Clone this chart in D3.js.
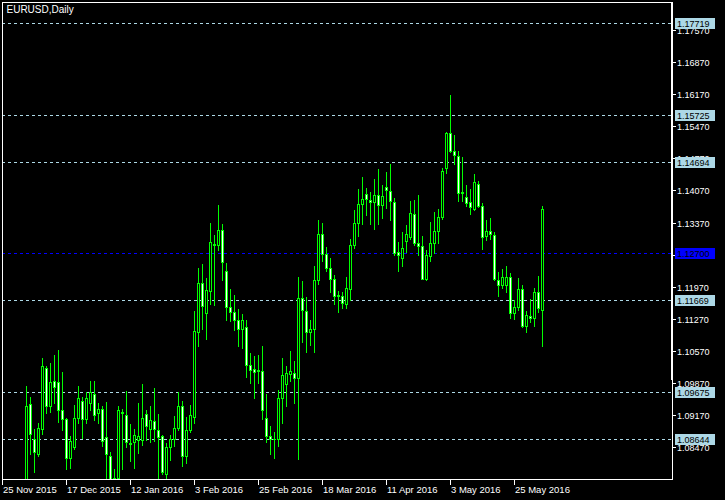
<!DOCTYPE html>
<html><head><meta charset="utf-8">
<script src="https://cdn.jsdelivr.net/npm/d3@7"></script>
<style>
html,body{margin:0;padding:0;background:#000;}
svg{display:block;}
text{font-family:"Liberation Sans",Arial,sans-serif;}
</style></head>
<body>
<svg id="chart" width="725" height="500"></svg>
<script>
const title = "EURUSD,Daily";
const opens = [1.0645,1.0625,1.0610,1.0590,1.0565,1.0630,1.0612,1.0940,1.0865,1.0831,
1.0887,1.1020,1.0937,1.0991,1.0988,1.0927,1.0907,1.0822,1.0847,1.0911,
1.0948,1.0907,1.0942,1.0962,1.0921,1.0929,1.0868,1.0827,1.0748,1.0780,
1.0922,1.0916,1.0854,1.0857,1.0862,1.0863,1.0918,1.0887,1.0903,1.0885,
1.0870,1.0787,1.0846,1.0865,1.0889,1.0937,1.0828,1.0884,1.0913,1.1099,
1.1204,1.1140,1.1188,1.1287,1.1289,1.1320,1.1232,1.1152,1.1141,1.1125,
1.1104,1.1110,1.1025,1.1017,1.1015,1.1013,1.0911,1.0871,1.0864,1.0865,
1.0953,1.0985,1.1007,1.1008,1.0997,1.1173,1.1144,1.1099,1.1104,1.1211,
1.1313,1.1268,1.1237,1.1213,1.1178,1.1177,1.1159,1.1191,1.1288,1.1335,
1.1377,1.1399,1.1386,1.1381,1.1396,1.1375,1.1414,1.1405,1.1381,1.1272,
1.1260,1.1297,1.1306,1.1355,1.1293,1.1285,1.1214,1.1265,1.1293,1.1318,
1.1350,1.1457,1.1532,1.1494,1.1482,1.1401,1.1392,1.1381,1.1367,1.1422,
1.1372,1.1308,1.1318,1.1310,1.1212,1.1200,1.1201,1.1217,1.1139,1.1152,
1.1191,1.1112,1.1134,1.1128,1.1185,1.1147];
const highs = [1.0670,1.0635,1.0620,1.0600,1.0640,1.0640,1.0980,1.0956,1.0886,1.0900,
1.1041,1.1023,1.1030,1.1047,1.1058,1.1010,1.0911,1.0872,1.0938,1.0981,
1.0956,1.0967,1.0991,1.0991,1.0942,1.0936,1.0945,1.0835,1.0798,1.0937,
1.0931,1.0969,1.0898,1.0886,1.0942,1.0984,1.0927,1.0937,1.0975,1.0919,
1.0874,1.0856,1.0874,1.0914,1.0966,1.0947,1.0912,1.0938,1.1144,1.1237,
1.1246,1.1215,1.1337,1.1309,1.1375,1.1334,1.1248,1.1192,1.1179,1.1148,
1.1137,1.1124,1.1052,1.1045,1.1048,1.1067,1.0962,1.0892,1.0879,1.0971,
1.1041,1.1024,1.1056,1.1034,1.1218,1.1209,1.1175,1.1124,1.1242,1.1342,
1.1337,1.1284,1.1260,1.1222,1.1187,1.1186,1.1217,1.1302,1.1364,1.1410,
1.1436,1.1412,1.1404,1.1431,1.1454,1.1419,1.1447,1.1465,1.1390,1.1294,
1.1316,1.1332,1.1384,1.1386,1.1396,1.1308,1.1277,1.1338,1.1360,1.1366,
1.1457,1.1535,1.1615,1.1528,1.1493,1.1479,1.1419,1.1410,1.1444,1.1428,
1.1379,1.1342,1.1347,1.1316,1.1229,1.1235,1.1242,1.1227,1.1168,1.1216,
1.1200,1.1144,1.1171,1.1194,1.1220,1.1373];
const lows = [1.0615,1.0600,1.0572,1.0556,1.0557,1.0600,1.0525,1.0831,1.0793,1.0827,
1.0875,1.0921,1.0924,1.0943,1.0902,1.0884,1.0799,1.0801,1.0843,1.0900,
1.0866,1.0900,1.0927,1.0905,1.0900,1.0850,1.0712,1.0711,1.0712,1.0733,
1.0799,1.0846,1.0817,1.0801,1.0833,1.0852,1.0863,1.0857,1.0860,1.0772,
1.0787,1.0777,1.0818,1.0849,1.0885,1.0805,1.0812,1.0879,1.0900,1.1067,
1.1104,1.1083,1.1159,1.1157,1.1277,1.1212,1.1124,1.1122,1.1102,1.1068,
1.1064,1.1000,1.0987,1.0955,1.0986,1.0909,1.0857,1.0832,1.0823,1.0850,
1.0900,1.0937,1.0991,1.0943,1.0821,1.1077,1.1055,1.1070,1.1055,1.1203,
1.1254,1.1232,1.1185,1.1159,1.1142,1.1151,1.1151,1.1168,1.1282,1.1308,
1.1333,1.1353,1.1334,1.1323,1.1334,1.1347,1.1369,1.1343,1.1266,1.1231,
1.1242,1.1272,1.1301,1.1288,1.1267,1.1213,1.1211,1.1253,1.1270,1.1293,
1.1345,1.1446,1.1492,1.1464,1.1384,1.1384,1.1373,1.1356,1.1365,1.1370,
1.1279,1.1299,1.1300,1.1211,1.1177,1.1195,1.1186,1.1129,1.1127,1.1146,
1.1108,1.1097,1.1120,1.1112,1.1142,1.1067];
const closes = [1.0625,1.0610,1.0590,1.0565,1.0630,1.0612,1.0937,1.0876,1.0835,1.0889,
1.1023,1.0937,1.0988,1.0978,1.0927,1.0909,1.0822,1.0860,1.0911,1.0954,
1.0907,1.0953,1.0967,1.0916,1.0929,1.0859,1.0831,1.0747,1.0780,1.0927,
1.0924,1.0857,1.0856,1.0873,1.0872,1.0911,1.0892,1.0905,1.0887,1.0869,
1.0793,1.0846,1.0865,1.0889,1.0937,1.0828,1.0885,1.0916,1.1100,1.1206,
1.1155,1.1189,1.1294,1.1290,1.1320,1.1250,1.1152,1.1141,1.1125,1.1104,
1.1125,1.1027,1.1016,1.1010,1.1013,1.0927,1.0870,1.0864,1.0865,1.0953,
1.1005,1.1009,1.1012,1.0997,1.1173,1.1145,1.1099,1.1104,1.1211,1.1313,
1.1268,1.1237,1.1213,1.1177,1.1177,1.1161,1.1193,1.1287,1.1337,1.1377,
1.1388,1.1388,1.1381,1.1396,1.1375,1.1395,1.1409,1.1383,1.1271,1.1266,
1.1281,1.1311,1.1357,1.1293,1.1286,1.1214,1.1266,1.1293,1.1318,1.1350,
1.1449,1.1532,1.1494,1.1484,1.1402,1.1403,1.1379,1.1370,1.1425,1.1374,
1.1306,1.1318,1.1312,1.1214,1.1200,1.1219,1.1217,1.1139,1.1152,1.1191,
1.1112,1.1136,1.1129,1.1185,1.1150,1.1366];
const dateLabels = ["25 Nov 2015","17 Dec 2015","12 Jan 2016","3 Feb 2016","25 Feb 2016","18 Mar 2016","11 Apr 2016","3 May 2016","25 May 2016"];
const dateBars = [0,16,32,48,64,80,96,112,128];
const priceTicks = [1.17570,1.16870,1.16170,1.15470,1.14770,1.14070,1.13370,1.12670,1.11970,1.11270,1.10570,1.09870,1.09170,1.08470];
const levelPrices = [1.17719,1.15725,1.14694,1.11669,1.09675,1.08644];
const bidPrice = 1.12700;

const svg = d3.select("#chart");
const L = 2, R = 672, T = 2, B = 479;
const x = d3.scaleLinear().domain([0, 167.5]).range([L, R]);
const y = d3.scaleLinear().domain([1.07771, 1.18184]).range([B, T]);
const px = v => Math.round(y(v));

svg.append("rect").attr("width",725).attr("height",500).attr("fill","#000");
svg.append("defs").append("clipPath").attr("id","plot")
  .append("rect").attr("x",L+1).attr("y",T+1).attr("width",R-L-1).attr("height",B-T-1);

const gLines = svg.append("g").attr("shape-rendering","crispEdges").attr("clip-path","url(#plot)");
const gCandles = svg.append("g").attr("shape-rendering","crispEdges").attr("clip-path","url(#plot)");
const gFrame = svg.append("g").attr("shape-rendering","crispEdges");
const gTicks = svg.append("g");
const gLabels = svg.append("g");

// level lines
levelPrices.forEach(p => {
  gLines.append("line").attr("x1",L).attr("x2",R).attr("y1",px(p)+0.5).attr("y2",px(p)+0.5)
    .attr("stroke","#add8e6").attr("stroke-width",1).attr("stroke-dasharray","3,3");
});
gLines.append("line").attr("x1",L).attr("x2",R).attr("y1",px(bidPrice)+0.5).attr("y2",px(bidPrice)+0.5)
  .attr("stroke","#0000ff").attr("stroke-width",1).attr("stroke-dasharray","3,3");

// candles
const bars = opens.map((o,i)=>({i,o,h:highs[i],l:lows[i],c:closes[i]}));
bars.forEach(d => {
  const xc = Math.round(x(d.i));
  const yH = px(d.h), yL = px(d.l), yO = px(d.o), yC = px(d.c);
  gCandles.append("rect").attr("x",xc).attr("y",yH).attr("width",1).attr("height",yL-yH+1).attr("fill","#00ff00");
  const top = Math.min(yO,yC), bot = Math.max(yO,yC);
  gCandles.append("rect").attr("x",xc-1).attr("y",top).attr("width",3).attr("height",bot-top+1).attr("fill","#00ff00");
  if (bot-top >= 2) {
    gCandles.append("rect").attr("x",xc).attr("y",top+1).attr("width",1).attr("height",bot-top-1)
      .attr("fill", d.c < d.o ? "#ffffff" : "#000000");
  }
});

// frame
gFrame.append("rect").attr("x",L).attr("y",T).attr("width",R-L+1).attr("height",1).attr("fill","#fff");
gFrame.append("rect").attr("x",L).attr("y",B).attr("width",R-L+1).attr("height",1).attr("fill","#fff");
gFrame.append("rect").attr("x",L).attr("y",T).attr("width",1).attr("height",B-T+1).attr("fill","#fff");
gFrame.append("rect").attr("x",R-1).attr("y",T).attr("width",2).attr("height",380-T).attr("fill","#fff");
gFrame.append("rect").attr("x",R).attr("y",380).attr("width",1).attr("height",B-380+1).attr("fill","#fff");

// price axis ticks
priceTicks.forEach(p => {
  const ty = px(p);
  gFrame.append("rect").attr("x",R+1).attr("y",ty).attr("width",3).attr("height",1).attr("fill","#fff");
  gTicks.append("text").attr("x",677).attr("y",ty+3.5).attr("fill","#fff").attr("font-size","9px")
    .text(p.toFixed(5));
});

// level labels (drawn over tick labels)
levelPrices.forEach(p => {
  const ty = px(p);
  gLabels.append("rect").attr("x",675).attr("y",ty-5).attr("width",40).attr("height",11)
    .attr("fill","#add8e6").attr("shape-rendering","crispEdges");
  gLabels.append("text").attr("x",677).attr("y",ty+3.5).attr("fill","#000").attr("font-size","9px").text(p.toFixed(5));
});
{
  const ty = px(bidPrice);
  gLabels.append("rect").attr("x",675).attr("y",ty-5).attr("width",40).attr("height",11)
    .attr("fill","#0000ff").attr("shape-rendering","crispEdges");
  gLabels.append("text").attr("x",677).attr("y",ty+3.5).attr("fill","#000").attr("font-size","9px").text(bidPrice.toFixed(5));
}

// date axis
dateBars.forEach((b,k) => {
  const tx = Math.round(x(b));
  gFrame.append("rect").attr("x",tx).attr("y",B+1).attr("width",1).attr("height",5).attr("fill","#fff");
  gTicks.append("text").attr("x",tx+1).attr("y",492.5).attr("fill","#fff").attr("font-size","9.5px").text(dateLabels[k]);
});

// title
gTicks.append("text").attr("x",6.5).attr("y",13).attr("fill","#fff").attr("font-size","10px").text(title);
</script>
</body></html>
